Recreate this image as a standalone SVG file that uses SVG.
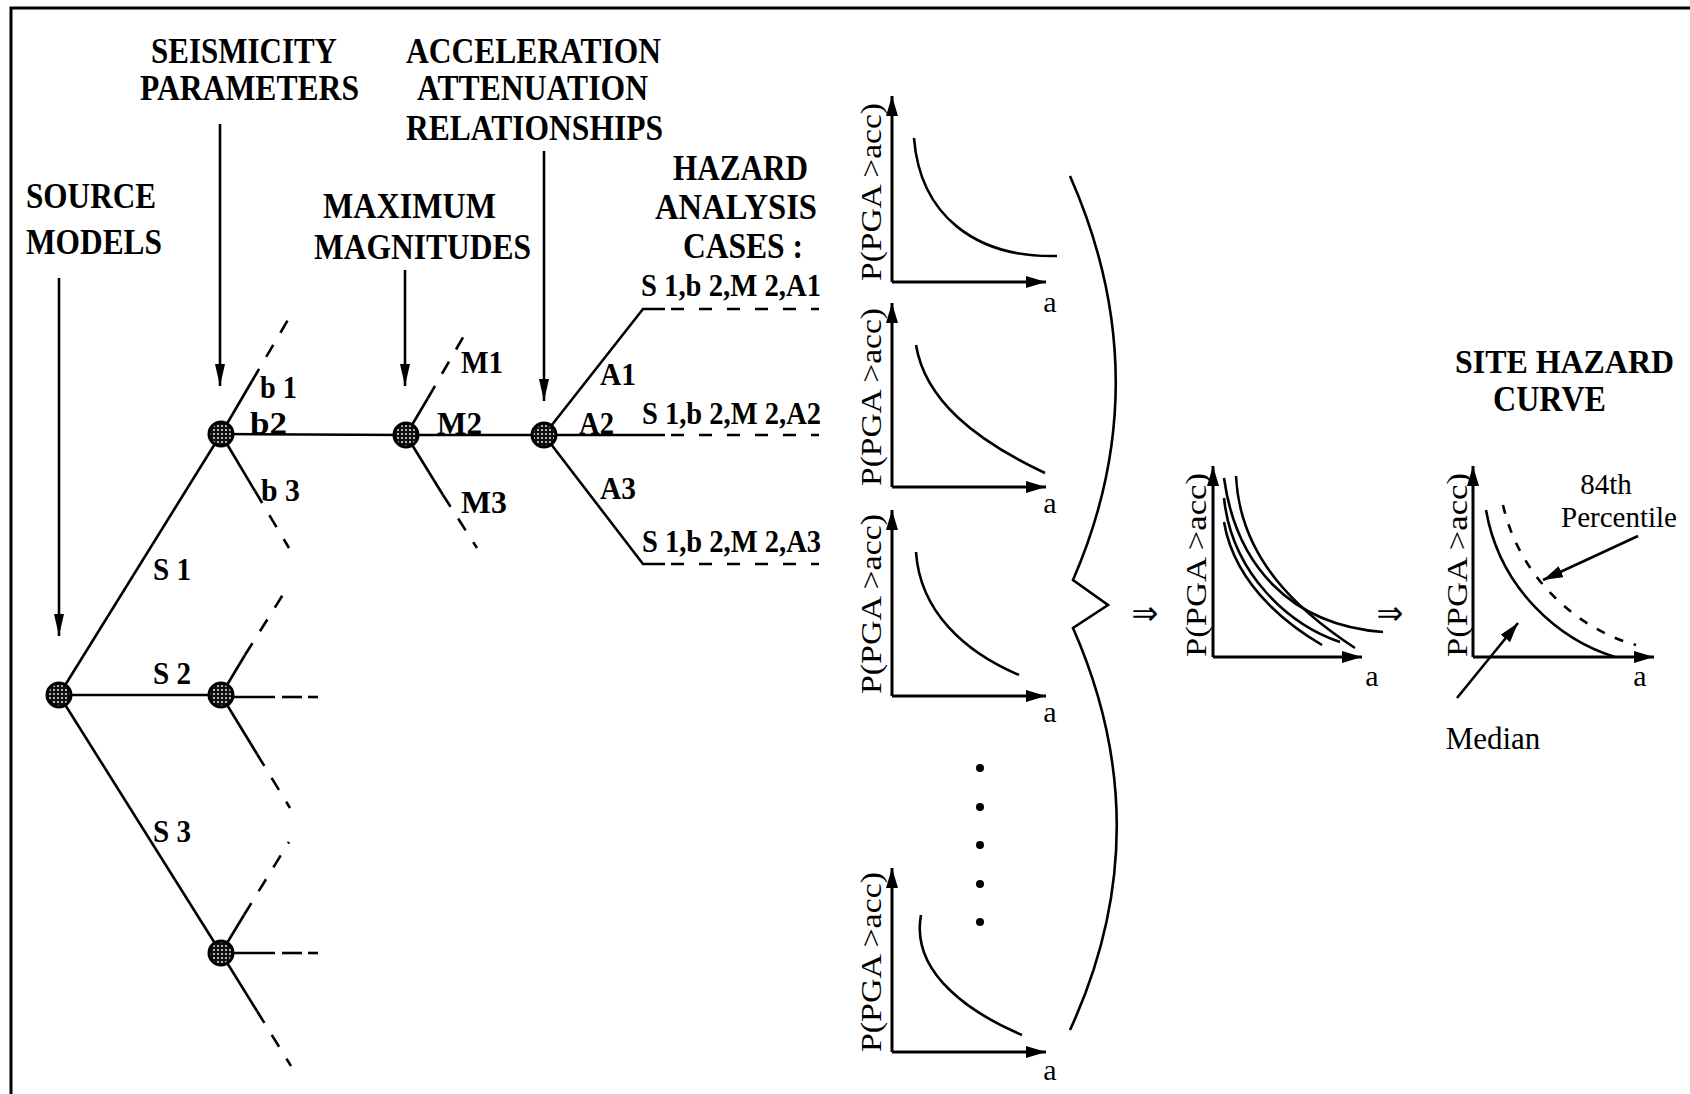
<svg xmlns="http://www.w3.org/2000/svg" width="1690" height="1094" viewBox="0 0 1690 1094">
<style>
.h{font-family:"Liberation Serif",serif;font-weight:bold;font-size:36px;fill:#000}
.l{font-family:"Liberation Serif",serif;font-weight:bold;font-size:32px;fill:#000}
.g{font-family:"Liberation Serif",serif;font-size:30px;fill:#000}
.ln{stroke:#000;stroke-width:2.6;fill:none}
.ds{stroke:#000;stroke-width:2.6;fill:none;stroke-dasharray:14 14}
.ax{stroke:#000;stroke-width:3;fill:none}
.cv{stroke:#000;stroke-width:2.6;fill:none}
.node{fill:url(#dots);stroke:#000;stroke-width:3}
.imp{font-family:"DejaVu Sans",sans-serif;font-size:32px;fill:#000}
</style>
<defs>
<pattern id="dots" width="4" height="4" patternUnits="userSpaceOnUse"><rect width="4" height="4" fill="#111"/><circle cx="2" cy="2" r="0.9" fill="#fff"/></pattern>
<marker id="tarr" markerUnits="userSpaceOnUse" markerWidth="24" markerHeight="12" refX="22" refY="5" orient="auto"><path d="M0,0 L22,5 L0,10 z" fill="#000"/></marker>
<marker id="aarr" markerUnits="userSpaceOnUse" markerWidth="22" markerHeight="14" refX="20" refY="6" orient="auto"><path d="M0,0 L20,6 L0,12 z" fill="#000"/></marker>
<marker id="parr" markerUnits="userSpaceOnUse" markerWidth="22" markerHeight="14" refX="20" refY="6" orient="auto"><path d="M0,0 L20,6 L0,12 z" fill="#000"/></marker>
</defs>
<rect width="1690" height="1094" fill="#fff"/>
<g id="frame"><path d="M11,1094 L11,8 L1690,8" class="ax"/></g>

<g id="headings">
<text class="h" x="151" y="63" textLength="186" lengthAdjust="spacingAndGlyphs">SEISMICITY</text>
<text class="h" x="140" y="100" textLength="219" lengthAdjust="spacingAndGlyphs">PARAMETERS</text>
<text class="h" x="406" y="63" textLength="255" lengthAdjust="spacingAndGlyphs">ACCELERATION</text>
<text class="h" x="417" y="100" textLength="231" lengthAdjust="spacingAndGlyphs">ATTENUATION</text>
<text class="h" x="406" y="140" textLength="257" lengthAdjust="spacingAndGlyphs">RELATIONSHIPS</text>
<text class="h" x="26" y="208" textLength="130" lengthAdjust="spacingAndGlyphs">SOURCE</text>
<text class="h" x="26" y="254" textLength="136" lengthAdjust="spacingAndGlyphs">MODELS</text>
<text class="h" x="323" y="218" textLength="173" lengthAdjust="spacingAndGlyphs">MAXIMUM</text>
<text class="h" x="314" y="259" textLength="217" lengthAdjust="spacingAndGlyphs">MAGNITUDES</text>
<text class="h" x="673" y="180" textLength="135" lengthAdjust="spacingAndGlyphs">HAZARD</text>
<text class="h" x="655" y="219" textLength="162" lengthAdjust="spacingAndGlyphs">ANALYSIS</text>
<text class="h" x="683" y="258" textLength="120" lengthAdjust="spacingAndGlyphs">CASES :</text>
<text class="h" x="1455" y="373" textLength="219" lengthAdjust="spacingAndGlyphs" style="font-size:34px">SITE HAZARD</text>
<text class="h" x="1493" y="411" textLength="113" lengthAdjust="spacingAndGlyphs">CURVE</text>
</g>

<g id="connectors">
<line x1="59" y1="278" x2="59" y2="636" class="ln" marker-end="url(#tarr)"/>
<line x1="220" y1="124" x2="220" y2="386" class="ln" marker-end="url(#tarr)"/>
<line x1="405" y1="270" x2="405" y2="386" class="ln" marker-end="url(#tarr)"/>
<line x1="544" y1="151" x2="544" y2="401" class="ln" marker-end="url(#tarr)"/>
<!-- source branches -->
<line x1="59" y1="695" x2="221" y2="434" class="ln"/>
<line x1="59" y1="695" x2="221" y2="695" class="ln"/>
<line x1="59" y1="695" x2="221" y2="953" class="ln"/>
<!-- b node -->
<line x1="221" y1="434" x2="252" y2="381" class="ln"/>
<line x1="252" y1="381" x2="292" y2="313" class="ds"/>
<line x1="221" y1="434" x2="406" y2="435" class="ln"/>
<line x1="221" y1="434" x2="255" y2="491" class="ln"/>
<line x1="255" y1="491" x2="289" y2="548" class="ds"/>
<!-- S2 node -->
<line x1="221" y1="695" x2="245" y2="655" class="ln"/>
<line x1="245" y1="655" x2="289" y2="585" class="ds"/>
<line x1="221" y1="697" x2="275" y2="697" class="ln"/>
<line x1="282" y1="697" x2="302" y2="697" class="ln"/>
<line x1="308" y1="697" x2="318" y2="697" class="ln"/>
<line x1="221" y1="695" x2="257" y2="754" class="ln"/>
<line x1="257" y1="754" x2="290" y2="808" class="ds"/>
<!-- S3 node -->
<line x1="221" y1="953" x2="244" y2="915" class="ln"/>
<line x1="244" y1="915" x2="289" y2="842" class="ds"/>
<line x1="221" y1="953" x2="275" y2="953" class="ln"/>
<line x1="282" y1="953" x2="302" y2="953" class="ln"/>
<line x1="308" y1="953" x2="318" y2="953" class="ln"/>
<line x1="221" y1="953" x2="257" y2="1011" class="ln"/>
<line x1="257" y1="1011" x2="291" y2="1066" class="ds"/>
<!-- M node -->
<line x1="406" y1="435" x2="428" y2="398" class="ln"/>
<line x1="428" y1="398" x2="469" y2="327" class="ds"/>
<line x1="406" y1="435" x2="544" y2="435" class="ln"/>
<line x1="406" y1="435" x2="443" y2="495" class="ln"/>
<line x1="443" y1="495" x2="477" y2="548" class="ds"/>
<!-- A node -->
<polyline points="544,435 643,309 665,309" class="ln"/>
<line x1="671" y1="309" x2="819" y2="309" class="ds" style="stroke-dasharray:13 15"/>
<line x1="544" y1="435" x2="665" y2="435" class="ln"/>
<line x1="671" y1="435" x2="819" y2="435" class="ds" style="stroke-dasharray:13 15"/>
<polyline points="544,435 643,564 665,564" class="ln"/>
<line x1="671" y1="564" x2="819" y2="564" class="ds" style="stroke-dasharray:13 15"/>
</g>

<g id="nodes">
<circle id="root" cx="59" cy="695" r="12" class="node"/>
<circle id="n-s1" cx="221" cy="434" r="12" class="node"/>
<circle id="n-s2" cx="221" cy="695" r="12" class="node"/>
<circle id="n-s3" cx="221" cy="953" r="12" class="node"/>
<circle id="n-m" cx="406" cy="435" r="12" class="node"/>
<circle id="n-a" cx="544" cy="435" r="12" class="node"/>
</g>

<g id="branch-labels">
<text class="l" x="260" y="398" textLength="37" lengthAdjust="spacingAndGlyphs">b 1</text>
<text class="l" x="250" y="434" textLength="37" lengthAdjust="spacingAndGlyphs">b2</text>
<text class="l" x="261" y="501" textLength="39" lengthAdjust="spacingAndGlyphs">b 3</text>
<text class="l" x="461" y="373" textLength="42" lengthAdjust="spacingAndGlyphs">M1</text>
<text class="l" x="437" y="434" textLength="45" lengthAdjust="spacingAndGlyphs">M2</text>
<text class="l" x="461" y="513" textLength="46" lengthAdjust="spacingAndGlyphs">M3</text>
<text class="l" x="600" y="385" textLength="36" lengthAdjust="spacingAndGlyphs">A1</text>
<text class="l" x="579" y="434" textLength="35" lengthAdjust="spacingAndGlyphs">A2</text>
<text class="l" x="600" y="499" textLength="36" lengthAdjust="spacingAndGlyphs">A3</text>
<text class="l" x="153" y="580" textLength="38" lengthAdjust="spacingAndGlyphs">S 1</text>
<text class="l" x="153" y="684" textLength="38" lengthAdjust="spacingAndGlyphs">S 2</text>
<text class="l" x="153" y="842" textLength="38" lengthAdjust="spacingAndGlyphs">S 3</text>
<text class="l" x="641" y="296" textLength="180" lengthAdjust="spacingAndGlyphs">S 1,b 2,M 2,A1</text>
<text class="l" x="642" y="424" textLength="179" lengthAdjust="spacingAndGlyphs">S 1,b 2,M 2,A2</text>
<text class="l" x="642" y="552" textLength="179" lengthAdjust="spacingAndGlyphs">S 1,b 2,M 2,A3</text>
</g>

<g id="graph1">
<path d="M892,282 L892,96" class="ax" marker-end="url(#aarr)"/>
<path d="M892,282 L1046,282" class="ax" marker-end="url(#aarr)"/>
<path d="M914,138 C920,215 975,258 1057,256" class="cv"/>
<text class="g" transform="translate(881,192) rotate(-90)" text-anchor="middle" textLength="178" lengthAdjust="spacingAndGlyphs">P(PGA  &gt;acc)</text>
<text class="g" x="1050" y="312" text-anchor="middle">a</text>
</g>
<g id="graph2">
<path d="M892,487 L892,303" class="ax" marker-end="url(#aarr)"/>
<path d="M892,487 L1046,487" class="ax" marker-end="url(#aarr)"/>
<path d="M916,345 C925,400 975,440 1045,473" class="cv"/>
<text class="g" transform="translate(881,397) rotate(-90)" text-anchor="middle" textLength="178" lengthAdjust="spacingAndGlyphs">P(PGA  &gt;acc)</text>
<text class="g" x="1050" y="513" text-anchor="middle">a</text>
</g>
<g id="graph3">
<path d="M892,696 L892,510" class="ax" marker-end="url(#aarr)"/>
<path d="M892,696 L1046,696" class="ax" marker-end="url(#aarr)"/>
<path d="M916,552 C920,612 965,652 1019,675" class="cv"/>
<text class="g" transform="translate(881,604) rotate(-90)" text-anchor="middle" textLength="180" lengthAdjust="spacingAndGlyphs">P(PGA  &gt;acc)</text>
<text class="g" x="1050" y="722" text-anchor="middle">a</text>
</g>
<g id="ellipsis">
<circle cx="980" cy="768" r="4"/><circle cx="980" cy="807" r="4"/><circle cx="980" cy="845" r="4"/><circle cx="980" cy="884" r="4"/><circle cx="980" cy="922" r="4"/>
</g>
<g id="graph4">
<path d="M892,1052 L892,868" class="ax" marker-end="url(#aarr)"/>
<path d="M892,1052 L1046,1052" class="ax" marker-end="url(#aarr)"/>
<path d="M921,915 C910,975 975,1015 1022,1035" class="cv"/>
<text class="g" transform="translate(881,962) rotate(-90)" text-anchor="middle" textLength="180" lengthAdjust="spacingAndGlyphs">P(PGA  &gt;acc)</text>
<text class="g" x="1050" y="1080" text-anchor="middle">a</text>
</g>

<g id="brace"><path d="M1070,176 Q1160,380 1073,580 L1108,605 L1073,628 Q1162,830 1070,1030" class="cv"/></g>

<g id="combine">
<text class="imp" x="1145" y="624" text-anchor="middle">⇒</text>
<text class="imp" x="1390" y="624" text-anchor="middle">⇒</text>
</g>

<g id="graph5">
<path d="M1213,657 L1213,466" class="ax" marker-end="url(#aarr)"/>
<path d="M1213,657 L1362,657" class="ax" marker-end="url(#aarr)"/>
<path d="M1224,478 C1236,565 1290,625 1383,632" class="cv"/>
<path d="M1236,476 C1240,560 1300,612 1355,648" class="cv"/>
<path d="M1224,498 C1232,575 1290,625 1340,642" class="cv"/>
<path d="M1224,522 C1236,592 1300,632 1322,645" class="cv"/>
<text class="g" transform="translate(1206,565) rotate(-90)" text-anchor="middle" textLength="184" lengthAdjust="spacingAndGlyphs">P(PGA  &gt;acc)</text>
<text class="g" x="1372" y="686" text-anchor="middle">a</text>
</g>

<g id="graph6">
<path d="M1473,657 L1473,466" class="ax" marker-end="url(#aarr)"/>
<path d="M1473,657 L1654,657" class="ax" marker-end="url(#aarr)"/>
<path d="M1486,510 C1500,590 1560,640 1615,657" class="cv"/>
<path d="M1503,505 C1520,580 1580,630 1636,645" class="cv" style="stroke-dasharray:9 11"/>
<text class="g" transform="translate(1467,565) rotate(-90)" text-anchor="middle" textLength="184" lengthAdjust="spacingAndGlyphs">P(PGA  &gt;acc)</text>
<text class="g" x="1640" y="686" text-anchor="middle">a</text>
<text class="g" x="1606" y="494" text-anchor="middle" style="font-size:29px">84th</text>
<text class="g" x="1619" y="527" text-anchor="middle" style="font-size:29px">Percentile</text>
<line x1="1638" y1="536" x2="1543" y2="580" class="ln" marker-end="url(#parr)"/>
<line x1="1457" y1="698" x2="1518" y2="623" class="ln" marker-end="url(#parr)"/>
<text class="g" x="1493" y="749" text-anchor="middle" style="font-size:31px">Median</text>
</g>
</svg>
